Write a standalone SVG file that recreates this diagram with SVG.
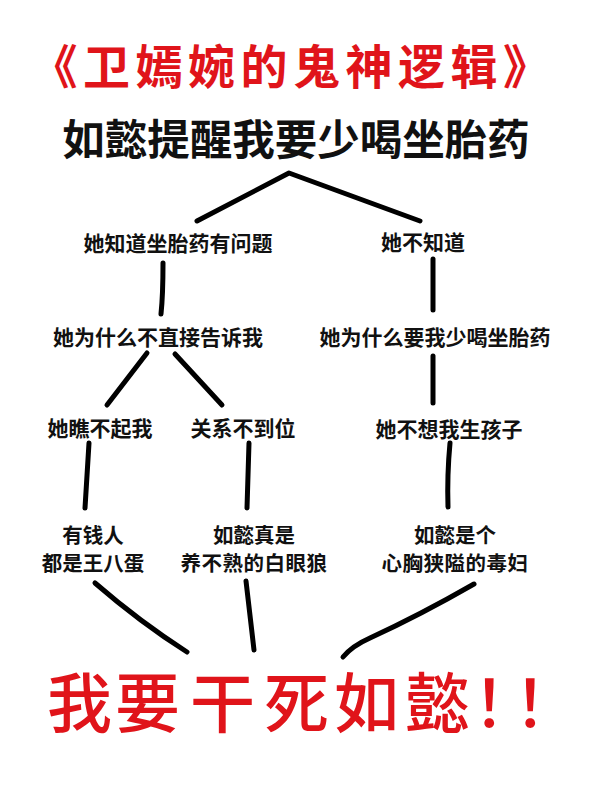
<svg xmlns="http://www.w3.org/2000/svg" width="590" height="800" viewBox="0 0 590 800">
<style>
.t{font-family:"Noto Sans CJK SC","Noto Sans",sans-serif;text-anchor:middle;fill:#111}
.n{font-size:21px;font-weight:700}
.m{font-size:20.5px;font-weight:700}
.red{fill:#e0141a}
.c{fill:none;stroke:#000;stroke-width:5;stroke-linecap:round;stroke-linejoin:round}
</style>
<rect width="590" height="800" fill="#fff"/>
<g id="title"><text class="t red" x="293" y="84" font-size="47" font-weight="700" letter-spacing="5.5">《卫嫣婉的鬼神逻辑》</text></g>
<g id="root"><text class="t" x="296" y="155" font-size="42.5" font-weight="700">如懿提醒我要少喝坐胎药</text></g>
<g id="n1"><text class="t n" x="178" y="251" font-size="22">她知道坐胎药有问题</text></g>
<g id="n2"><text class="t n" x="423" y="250" font-size="22">她不知道</text></g>
<g id="n3"><text class="t n" x="158" y="345">她为什么不直接告诉我</text></g>
<g id="n4"><text class="t n" x="435" y="345">她为什么要我少喝坐胎药</text></g>
<g id="n5"><text class="t n" x="100" y="436">她瞧不起我</text></g>
<g id="n6"><text class="t n" x="243" y="436">关系不到位</text></g>
<g id="n7"><text class="t n" x="449" y="437">她不想我生孩子</text></g>
<g id="n8"><text class="t m" x="93" y="543">有钱人</text><text class="t m" x="93" y="571">都是王八蛋</text></g>
<g id="n9"><text class="t m" x="254" y="543">如懿真是</text><text class="t m" x="254" y="571" letter-spacing="0.5">养不熟的白眼狼</text></g>
<g id="n10"><text class="t m" x="455" y="543">如懿是个</text><text class="t m" x="455" y="571" letter-spacing="0.5">心胸狭隘的毒妇</text></g>
<g id="final"><text class="t red" x="47 115 190 264 334 405 473 514" y="727" font-size="65" font-weight="500" style="text-anchor:start">我要干死如懿！！</text></g>
<g id="connectors">
<path class="c" d="M197,221 L289,173 L420,221"/>
<path class="c" d="M163,263 Q163,295 161,314"/>
<path class="c" d="M433,259 L433,310"/>
<path class="c" d="M147,353 L107,405"/>
<path class="c" d="M175,354 L222,405"/>
<path class="c" d="M433,356 L433,403"/>
<path class="c" d="M89,443 Q87,475 85,508"/>
<path class="c" d="M249,443 L247,508"/>
<path class="c" d="M450,443 Q447,475 448,507"/>
<path class="c" d="M95,583 Q140,622 187,652"/>
<path class="c" d="M246,581 L254,650"/>
<path class="c" d="M474,584 Q420,615 370,638 Q352,646 343,657"/>
</g>
</svg>
